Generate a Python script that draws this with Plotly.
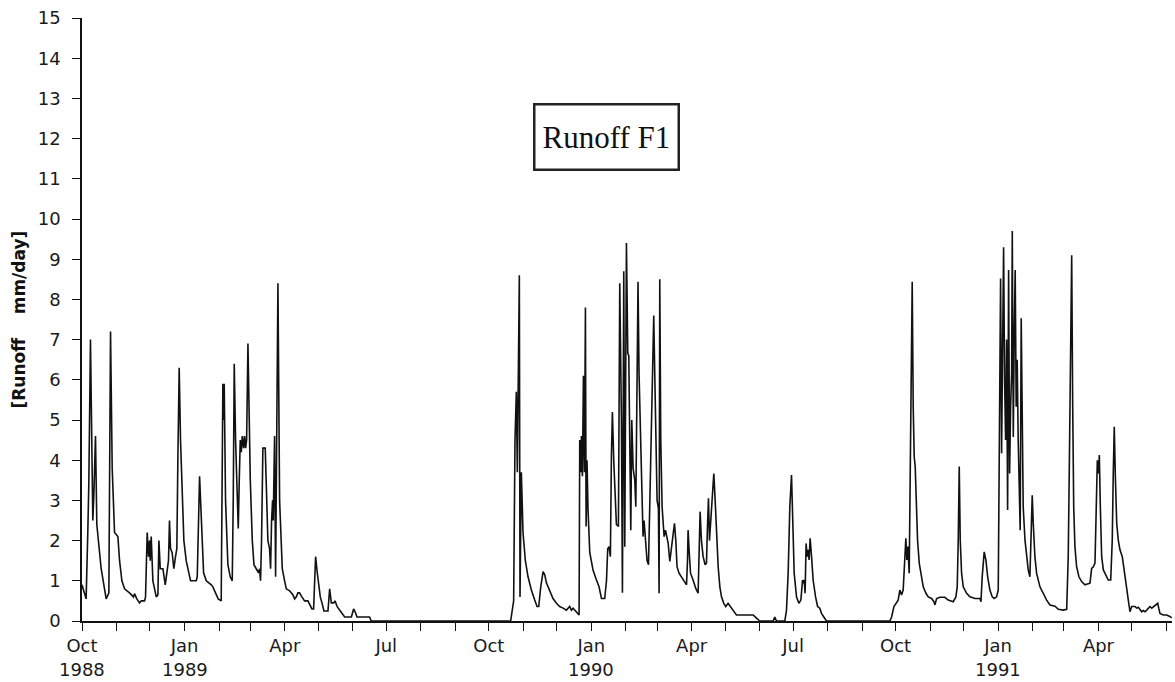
import pandas as pd
import plotly.graph_objects as go

# ---- data: day offsets since 1 Oct 1988, runoff in mm/day ----
days_wy1989 = [0, 3.7, 5.2, 6.1, 7.6, 8.8, 9.7, 10.6, 12.1, 13.3, 15.1, 17.2, 20.2, 21.7, 24.1, 25.6,
               27.1, 29.2, 32.2, 33.7, 35.8, 38.2, 42.6, 44.1, 46.2, 47.1, 49.2, 51.6, 53.1, 56.1, 57.0,
               58.5, 59.7, 60.6, 61.2, 62.1, 63.6, 65.1, 66.6, 68.1, 69.0, 70.2, 72.6, 74.7, 76.1, 77.6,
               78.5, 79.4, 80.9, 82.4, 83.9, 85.1, 86.0, 87.2, 88.4, 89.9, 91.4, 93.5, 95.6, 97.4, 102.5,
               103.4, 105.5, 107.0, 109.1, 111.5, 113.9, 116.0, 117.4, 119.8, 122.2, 124.9, 125.5, 126.4,
               127.3, 127.6, 128.8, 130.9, 133.0, 134.8, 135.7, 136.6, 137.8, 139.3, 140.2, 141.1, 142.0,
               142.9, 143.8, 145.0, 145.9, 146.8, 147.7, 148.9, 149.8, 151.0, 152.8, 154.3, 156.3, 158.4,
               159.3, 160.2, 161.1, 162.3, 164.4, 165.3, 166.8, 168.3, 169.2, 170.1, 171.0, 171.6, 172.8,
               173.7, 175.8, 177.3, 179.7, 181.8, 183.3, 186.3, 189.3, 190.8, 192.3, 193.7, 195.2, 197.3,
               199.7, 202.7, 204.8, 206.3, 207.8, 209.6, 211.1, 213.8, 215.3, 217.1, 220.7, 222.2, 223.7,
               225.8, 227.0, 229.1, 231.8, 235.7, 241.7, 243.7, 245.5, 246.7, 258.0, 259.5]
runoff_wy1989 = [0.9, 0.55, 2.2, 3.4, 7.0, 4.7, 2.5, 3.1, 4.6, 2.4, 1.8, 1.3, 0.8, 0.55, 0.7, 7.2,
                 3.8, 2.2, 2.1, 1.5, 1.0, 0.8, 0.7, 0.65, 0.6, 0.68, 0.55, 0.45, 0.5, 0.5, 0.6,
                 2.2, 1.6, 2.0, 1.5, 2.1, 1.0, 0.8, 0.6, 0.65, 2.0, 1.3, 1.3, 0.9, 1.2, 1.5,
                 2.5, 1.8, 1.7, 1.3, 1.6, 1.8, 4.0, 6.3, 4.5, 3.0, 2.0, 1.5, 1.2, 1.0, 1.0,
                 1.1, 3.6, 2.5, 1.2, 1.0, 0.95, 0.9, 0.85, 0.7, 0.55, 0.5, 2.0, 5.9,
                 5.0, 5.9, 3.0, 1.4, 1.1, 1.0, 3.0, 6.4, 4.5, 3.0, 2.3, 3.5, 4.5,
                 4.2, 4.6, 4.3, 4.6, 4.3, 4.5, 6.9, 5.0, 3.5, 2.0, 1.4, 1.3, 1.2,
                 1.3, 1.0, 2.0, 4.3, 4.3, 3.4, 2.0, 1.8, 1.3, 2.5, 3.0, 2.5, 4.6,
                 1.1, 8.4, 3.0, 1.3, 1.0, 0.8, 0.75, 0.65, 0.55, 0.6, 0.7, 0.7, 0.6,
                 0.5, 0.5, 0.4, 0.3, 0.3, 1.6, 1.2, 0.6, 0.45, 0.25, 0.25, 0.8, 0.45,
                 0.45, 0.5, 0.35, 0.25, 0.1, 0.1, 0.3, 0.2, 0.1, 0.1, 0.0]

days_wy1990 = [384.6, 387.3, 388.5, 389.7, 390.6, 391.6, 392.4, 393.0, 394.2, 395.7, 397.8, 400.2,
               403.2, 406.2, 408.3, 409.8, 411.6, 413.7, 415.2, 416.7, 419.7, 422.6, 425.7, 428.6,
               431.6, 434.6, 437.6, 439.1, 440.6, 443.6, 446.0, 446.6, 447.5, 448.1, 449.0, 449.9,
               450.8, 451.7, 452.3, 453.1, 454.0, 455.6, 458.5, 461.6, 463.9, 466.1, 469.0, 470.6,
               471.7, 472.9, 474.1, 475.0, 475.9, 477.1, 478.3, 479.5, 481.3, 482.5, 484.0, 484.9,
               486.1, 487.0, 488.5, 489.7, 490.6, 491.5, 492.4, 493.3, 494.5, 496.0, 496.9, 498.1,
               498.9, 499.8, 501.1, 502.2, 503.4, 504.3, 505.6, 507.0, 508.3, 509.4, 510.9, 511.8,
               513.0, 513.9, 514.8, 516.0, 517.2, 517.8, 518.4, 519.3, 520.5, 522.3, 523.5, 524.4,
               525.9, 527.4, 528.9, 530.3, 531.6, 532.8, 533.9, 535.7, 537.9, 540.8, 542.4, 543.3,
               543.8, 544.7, 546.0, 548.3, 550.7, 552.8, 553.7, 554.6, 555.8, 557.3, 559.1, 560.3,
               561.2, 562.1, 563.0, 563.9, 565.3, 566.9, 568.1, 569.3, 570.8, 572.3, 573.8, 575.8,
               577.6, 579.7, 581.9, 584.2, 587.2, 590.2, 596.2, 602.2, 605.2, 608.2, 620.1, 621.6,
               623.1, 630.6, 632.1, 633.6, 635.1, 636.6, 637.8, 639.0, 641.1, 643.2, 645.0, 646.5,
               647.1, 648.0, 648.8, 649.7, 650.6, 651.5, 652.4, 653.3, 654.6, 656.0, 658.2, 660.0,
               662.0, 663.5, 665.6, 668.0]
runoff_wy1990 = [0.0, 0.5, 4.5, 5.7, 3.7, 5.75, 8.6, 0.6, 3.7, 2.2, 1.5, 1.1,
                 0.77, 0.52, 0.36, 0.36, 0.85, 1.23, 1.15, 0.95, 0.73, 0.56, 0.44, 0.36,
                 0.32, 0.27, 0.36, 0.27, 0.32, 0.23, 0.15, 4.5, 3.7, 4.6, 3.6, 6.1,
                 3.7, 7.8, 2.35, 4.0, 2.8, 1.7, 1.27, 1.02, 0.85, 0.56, 0.56, 1.0,
                 1.8, 1.85, 1.6, 4.1, 5.2, 4.0, 3.2, 2.4, 2.35, 8.4, 5.0, 0.7,
                 8.7, 1.85, 9.4, 6.66, 6.6, 3.7, 2.26, 5.0, 3.8, 3.5, 2.84, 6.16,
                 8.44, 6.16, 4.5, 2.84, 2.1, 2.5, 2.0, 1.5, 1.4, 2.84, 5.33, 6.58,
                 7.6, 6.16, 4.5, 3.0, 2.8, 0.69, 8.5, 4.5, 2.84, 2.1, 2.26, 2.1,
                 1.94, 1.48, 1.85, 2.18, 2.43, 2.0, 1.35, 1.19, 1.1, 0.98, 0.9, 1.52,
                 2.26, 1.77, 1.19, 1.02, 0.81, 0.69, 1.52, 2.72, 2.0, 1.6, 1.4, 1.44,
                 2.35, 3.05, 2.0, 2.35, 3.0, 3.67, 3.0, 2.18, 1.35, 0.85, 0.6, 0.44,
                 0.36, 0.44, 0.36, 0.27, 0.15, 0.15, 0.15, 0.15, 0.07, 0.0, 0.0, 0.1,
                 0.0, 0.0, 0.27, 1.19, 2.84, 3.63, 2.43, 1.19, 0.6, 0.44, 0.52, 1.02,
                 0.94, 1.02, 0.69, 1.93, 1.6, 1.77, 1.52, 2.06, 1.6, 1.02, 0.6, 0.36,
                 0.32, 0.19, 0.1, 0.0]

days_wy1991 = [724.9, 726.4, 728.5, 730.9, 732.3, 733.8, 735.3, 736.8, 738.3, 739.2, 740.1, 741.0,
               742.2, 743.1, 744.0, 744.9, 745.8, 746.7, 747.6, 748.5, 749.7, 751.2, 752.7, 754.8,
               757.2, 759.3, 762.3, 764.4, 765.3, 766.8, 769.7, 774.2, 777.2, 780.2, 781.7, 784.1,
               785.3, 786.2, 787.1, 788.0, 789.2, 790.7, 793.7, 796.7, 801.2, 805.7, 806.6, 807.7,
               809.5, 811.0, 812.6, 814.6, 816.7, 818.5, 820.6, 822.1, 822.7, 823.6, 824.2, 825.1,
               826.0, 826.9, 827.8, 828.7, 829.6, 830.5, 831.4, 832.3, 833.2, 834.1, 834.7, 835.6,
               836.4, 837.3, 838.2, 839.1, 840.0, 840.9, 841.8, 842.7, 843.6, 844.5, 846.1, 847.5,
               849.0, 850.5, 851.4, 852.6, 853.5, 855.0, 856.5, 859.5, 862.5, 865.5, 868.5, 873.0,
               876.0, 880.4, 883.5, 884.9, 885.8, 886.7, 888.0, 888.9, 889.8, 890.9, 892.4, 894.5,
               896.9, 899.9, 902.9, 904.4, 905.9, 907.4, 908.9, 909.8, 911.0, 911.9, 912.8, 913.7,
               914.9, 916.4, 917.9, 919.4, 920.8, 923.0, 924.4, 925.3, 926.2, 927.1, 928.4, 929.8,
               931.3, 933.4, 935.2, 937.3, 938.8, 940.3, 941.8, 944.8, 946.3, 947.8, 949.3, 950.8,
               952.2, 953.8, 955.3, 958.2, 959.8, 961.8, 963.6, 965.2, 966.1, 967.2, 970.2, 973.2,
               975.6, 977.7]
runoff_wy1991 = [0.0, 0.1, 0.36, 0.48, 0.52, 0.77, 0.65, 0.77, 1.52, 2.06, 1.52, 1.85,
                 1.19, 3.67, 7.0, 8.44, 5.33, 4.09, 3.84, 2.84, 2.01, 1.44, 1.19, 0.85,
                 0.69, 0.6, 0.56, 0.48, 0.4, 0.56, 0.59, 0.59, 0.52, 0.5, 0.48, 0.6,
                 0.85, 2.01, 3.84, 2.01, 1.19, 0.85, 0.69, 0.6, 0.56, 0.56, 0.48, 1.1,
                 1.72, 1.52, 1.1, 0.77, 0.6, 0.56, 0.6, 0.77, 3.67, 5.75, 8.52, 4.17,
                 6.58, 9.3, 6.0, 4.5, 7.0, 2.76, 8.73, 3.67, 5.33, 6.16, 9.7, 4.58,
                 7.0, 8.73, 5.33, 6.5, 4.5, 2.84, 2.26, 7.53, 4.5, 2.84, 2.01, 1.6,
                 1.27, 1.1, 2.01, 3.13, 2.43, 1.6, 1.19, 0.85, 0.69, 0.52, 0.4, 0.37,
                 0.29, 0.27, 0.29, 1.6, 3.67, 6.16, 9.1, 5.33, 2.84, 1.85, 1.35, 1.1,
                 0.98, 0.9, 0.94, 0.94, 1.31, 1.35, 1.44, 2.43, 4.0, 3.67, 4.13, 2.84,
                 1.6, 1.27, 1.19, 1.1, 1.02, 1.02, 2.01, 3.67, 4.83, 3.67, 2.43, 2.01,
                 1.77, 1.6, 1.19, 0.77, 0.52, 0.23, 0.36, 0.36, 0.32, 0.34, 0.27, 0.23,
                 0.26, 0.23, 0.27, 0.36, 0.32, 0.36, 0.4, 0.44, 0.32, 0.19, 0.15, 0.15,
                 0.12, 0.08]

month_ticks = pd.date_range("1988-10-01", "1991-06-01", freq="MS")
month_names = {1: "Jan", 4: "Apr", 7: "Jul", 10: "Oct"}
tick_text = [month_names.get(d.month, "") for d in month_ticks]
year_label_dates = ["1988-10-01", "1989-01-01", "1990-01-01", "1991-01-01"]
year_labels = ["1988", "1989", "1990", "1991"]

start = pd.Timestamp("1988-10-01")
all_days = days_wy1989 + days_wy1990 + days_wy1991
all_runoff = runoff_wy1989 + runoff_wy1990 + runoff_wy1991
dates = start + pd.to_timedelta(all_days, unit="D")

tick_font = dict(family="DejaVu Sans", size=18, color="#1a1a1a")

fig = go.Figure()
fig.add_trace(go.Scatter(x=dates, y=all_runoff, mode="lines",
                         line=dict(color="#111111", width=1.6), showlegend=False,
                         hoverinfo="skip"))

fig.update_layout(
    width=1175, height=682,
    margin=dict(l=82, r=3, t=18, b=61),
    paper_bgcolor="white", plot_bgcolor="white",
    xaxis=dict(
        range=[start, start + pd.Timedelta(days=978)],
        tickmode="array", tickvals=month_ticks, ticktext=tick_text,
        ticks="outside", ticklen=8, tickwidth=1.2, tickcolor="#111",
        showline=True, linecolor="#111", linewidth=1.5,
        showgrid=False, zeroline=False, tickfont=tick_font,
        ticklabelstandoff=0, automargin=False,
    ),
    yaxis=dict(
        range=[0, 15], tickmode="linear", tick0=0, dtick=1,
        ticks="outside", ticklen=8, tickwidth=1.2, tickcolor="#111",
        showline=True, linecolor="#111", linewidth=1.5,
        showgrid=False, zeroline=False, tickfont=tick_font,
        ticklabelstandoff=8, automargin=False,
    ),
)

# year labels under the month labels
for d, t in zip(year_label_dates, year_labels):
    fig.add_annotation(x=d, y=-0.08, xref="x", yref="paper", text=t, showarrow=False,
                       xanchor="center", yanchor="middle", font=tick_font)

# y-axis title
fig.add_annotation(x=-0.0587, y=0.5, xref="paper", yref="paper",
                   text="[Runoff\u00a0\u00a0\u00a0\u00a0mm/day]", textangle=-90, showarrow=False,
                   xanchor="center", yanchor="middle",
                   font=dict(family="DejaVu Sans", size=17, color="#111", weight="bold"))

# boxed title
fig.add_annotation(x="1990-01-15", y=12.05, xref="x", yref="y", text="Runoff F1",
                   showarrow=False, xanchor="center", yanchor="middle",
                   width=142, height=63, borderwidth=2.5, borderpad=0,
                   bordercolor="#222", bgcolor="white",
                   font=dict(family="Liberation Serif", size=31, color="#111"))

fig.write_html("out.html", config={"displayModeBar": False},
               post_script="document.body.style.margin='0px';document.body.style.overflow='hidden';")
